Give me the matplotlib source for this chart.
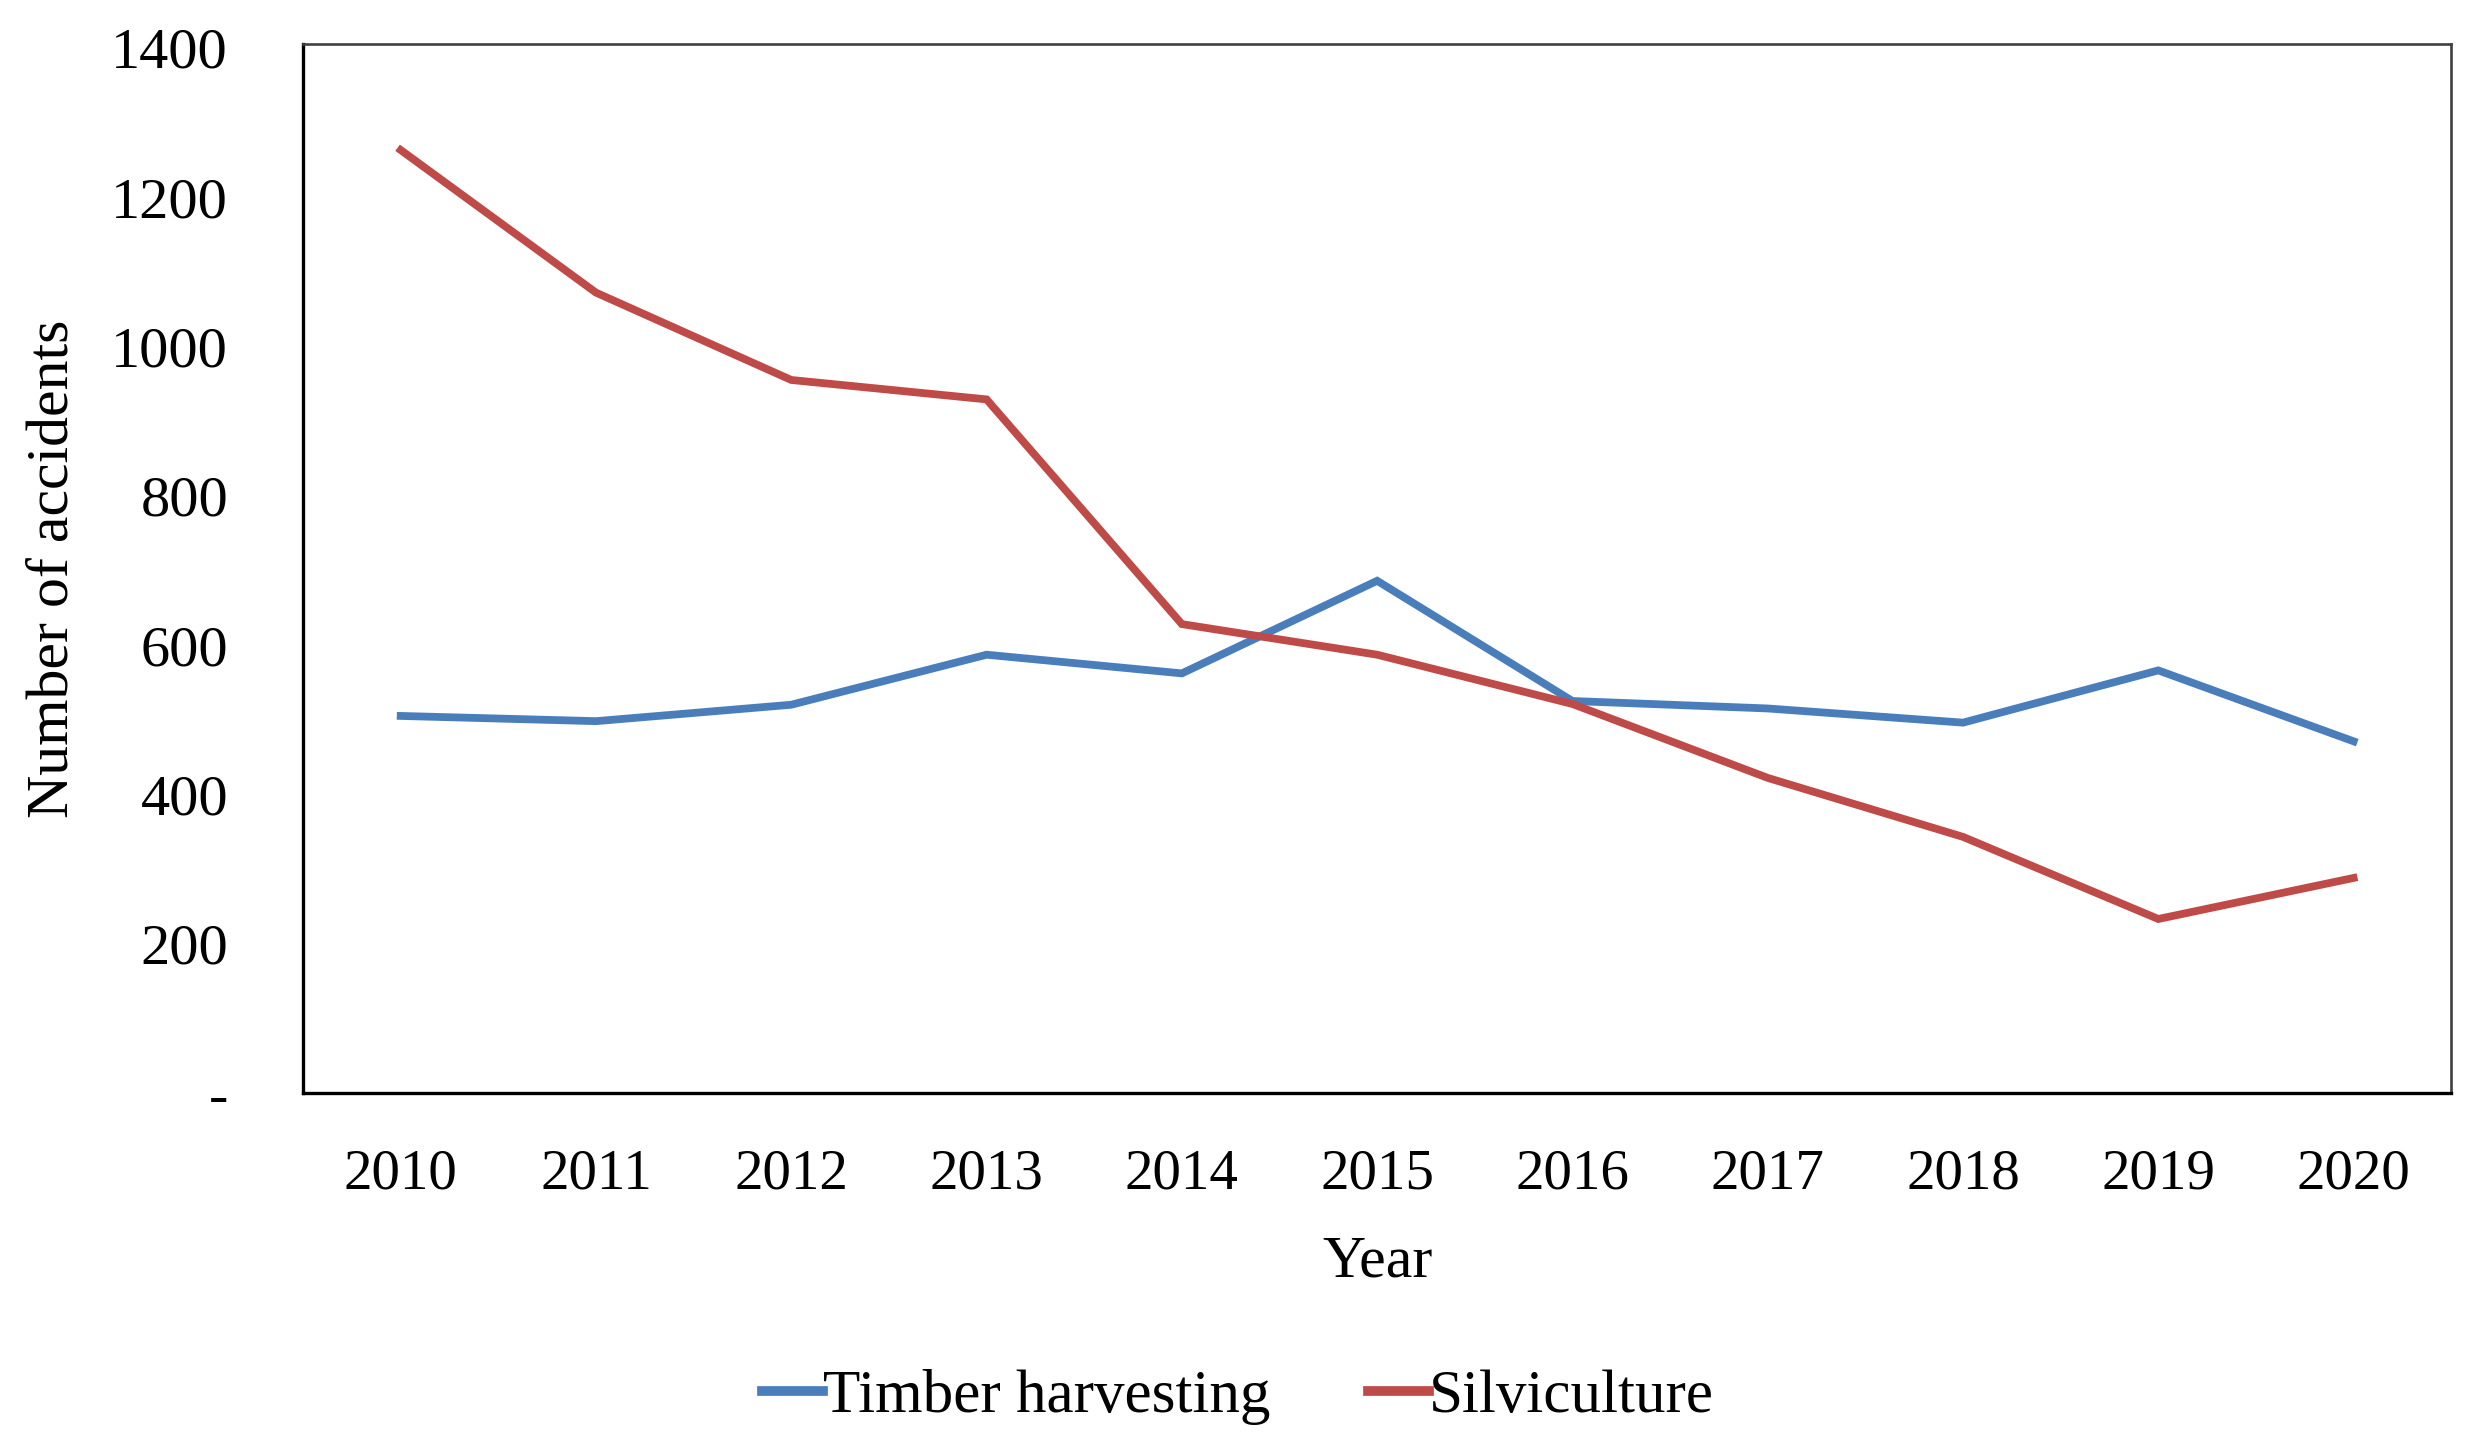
import matplotlib
matplotlib.use("Agg")
import matplotlib.pyplot as plt

years = ["2010", "2011", "2012", "2013", "2014", "2015", "2016", "2017", "2018", "2019", "2020"]
timber_harvesting = [505, 498, 520, 587, 562, 686, 525, 515, 496, 566, 471]
silviculture = [1263, 1072, 955, 929, 628, 587, 521, 422, 343, 233, 288]
y_ticks = [0, 200, 400, 600, 800, 1000, 1200, 1400]
y_tick_labels = ["-", "200", "400", "600", "800", "1000", "1200", "1400"]

plt.rcParams["font.family"] = ["Liberation Serif", "DejaVu Serif"]

fig = plt.figure(figsize=(24.76, 14.53), dpi=100)
ax = fig.add_axes([0.1224, 0.2478, 0.990 - 0.1224, 0.9697 - 0.2478])

x = list(range(len(years)))
ax.plot(x, timber_harvesting, color="#4A7EBB", lw=5.6, label="Timber harvesting", solid_joinstyle="miter")
ax.plot(x, silviculture, color="#BE4B48", lw=5.6, label="Silviculture", solid_joinstyle="miter")

ax.set_xlim(-0.5, len(years) - 0.5)
ax.set_ylim(0, 1405)
ax.set_xticks(x)
ax.set_xticklabels(years, fontsize=41)
ax.set_yticks(y_ticks)
ax.set_yticklabels(y_tick_labels, fontsize=42)
ax.tick_params(axis="both", length=0)
ax.tick_params(axis="y", pad=54)
ax.tick_params(axis="x", pad=40)

for side in ["left", "bottom"]:
    ax.spines[side].set_color("black")
    ax.spines[side].set_linewidth(2.4)
for side in ["top", "right"]:
    ax.spines[side].set_color("#404040")
    ax.spines[side].set_linewidth(1.9)

ax.set_xlabel("Year", fontsize=43, labelpad=25)
ax.set_ylabel("Number of accidents", fontsize=43, labelpad=22)

leg = fig.legend(loc="center", bbox_to_anchor=(0.5, 1 - 1397 / 1453), ncol=2, frameon=False,
                 fontsize=44, handlelength=1.0, handletextpad=0.0, columnspacing=1.6)
for line in leg.get_lines():
    line.set_linewidth(7)

fig.savefig("out.png", dpi=100)
